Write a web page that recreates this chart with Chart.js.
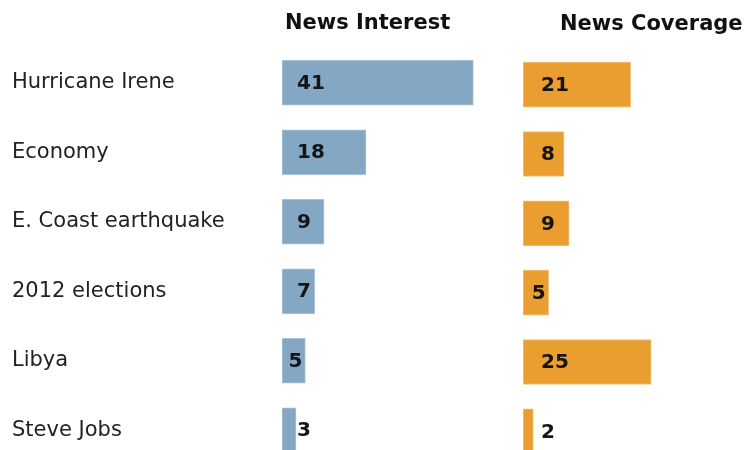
<!DOCTYPE html>
<html>
<head>
<meta charset="utf-8">
<script src="https://cdn.jsdelivr.net/npm/chart.js@4/dist/chart.umd.min.js"></script>
<style>
  html, body { margin: 0; padding: 0; background: #ffffff; }
  body { width: 746px; height: 450px; overflow: hidden; position: relative; }
  .panel { position: absolute; top: 0; }
  #leftPanel { left: 0; width: 520px; height: 480px; }
  #rightPanel { left: 520px; width: 226px; height: 480px; }
</style>
</head>
<body>
<div class="panel" id="leftPanel"><canvas id="interestChart" width="520" height="480"></canvas></div>
<div class="panel" id="rightPanel"><canvas id="coverageChart" width="226" height="480"></canvas></div>
<script>
// Stories and their shares (%) of news interest and news coverage
const categories = ['Hurricane Irene', 'Economy', 'E. Coast earthquake', '2012 elections', 'Libya', 'Steve Jobs'];
const newsInterest = [41, 18, 9, 7, 5, 3];
const newsCoverage = [21, 8, 9, 5, 25, 2];
const panelTitles = ['News Interest', 'News Coverage'];

const FONT = '"DejaVu Sans", Verdana, sans-serif';

// Panel heading drawn above the bars
const panelTitlePlugin = {
  id: 'panelTitle',
  afterDraw(chart, args, opts) {
    const ctx = chart.ctx;
    ctx.save();
    ctx.font = 'bold 21px ' + FONT;
    ctx.fillStyle = '#111111';
    ctx.textAlign = 'left';
    ctx.textBaseline = 'alphabetic';
    ctx.fillText(opts.text, chart.chartArea.left + opts.dx, opts.y);
    ctx.restore();
  }
};

// Value printed near the start of each bar; pulled back inside short bars when it fits
const barValuePlugin = {
  id: 'barValue',
  afterDatasetsDraw(chart, args, opts) {
    const ctx = chart.ctx;
    ctx.save();
    ctx.font = 'bold 20px ' + FONT;
    ctx.fillStyle = '#151515';
    ctx.textAlign = 'left';
    ctx.textBaseline = 'middle';
    const meta = chart.getDatasetMeta(0);
    const values = chart.data.datasets[0].data;
    meta.data.forEach((bar, i) => {
      const text = String(values[i]);
      const w = ctx.measureText(text).width;
      const start = bar.base;
      const end = bar.x;
      let x = start + opts.offset;
      if (x + w > end - 3 && end - 3 - w >= start + 3) {
        x = end - 3 - w;
      }
      ctx.fillText(text, x, bar.y + 1);
    });
    ctx.restore();
  }
};

function makePanel(canvasId, values, color, border, xMax, opts) {
  return new Chart(document.getElementById(canvasId), {
    type: 'bar',
    data: {
      labels: categories,
      datasets: [{
        data: values,
        backgroundColor: color,
        borderColor: border,
        borderWidth: 1,
        borderSkipped: false,
        barThickness: 45
      }]
    },
    options: {
      indexAxis: 'y',
      responsive: false,
      animation: false,
      events: [],
      layout: { padding: opts.padding },
      scales: {
        x: { display: false, min: 0, max: xMax },
        y: {
          display: opts.showLabels,
          grid: { display: false, drawTicks: false },
          border: { display: false },
          ticks: {
            crossAlign: 'far',
            padding: 0,
            color: '#222222',
            font: { family: FONT, size: 21 }
          },
          afterFit(scale) { scale.width = opts.labelWidth; }
        }
      },
      plugins: {
        legend: { display: false },
        tooltip: { enabled: false },
        panelTitle: opts.title,
        barValue: { offset: opts.valueOffset }
      }
    },
    plugins: [panelTitlePlugin, barValuePlugin]
  });
}

makePanel('interestChart', newsInterest, '#84a8c3', '#a9c3d6', 51, {
  padding: { left: 12, right: 0, top: 48, bottom: 15 },
  showLabels: true,
  labelWidth: 270,
  valueOffset: 15,
  title: { text: panelTitles[0], dx: 3, y: 29 }
});

makePanel('coverageChart', newsCoverage, '#e99e2f', '#f2c27f', 43.5, {
  padding: { left: 3, right: 0, top: 50, bottom: 14 },
  showLabels: false,
  labelWidth: 0,
  valueOffset: 18,
  title: { text: panelTitles[1], dx: 37, y: 30 }
});
</script>
</body>
</html>
